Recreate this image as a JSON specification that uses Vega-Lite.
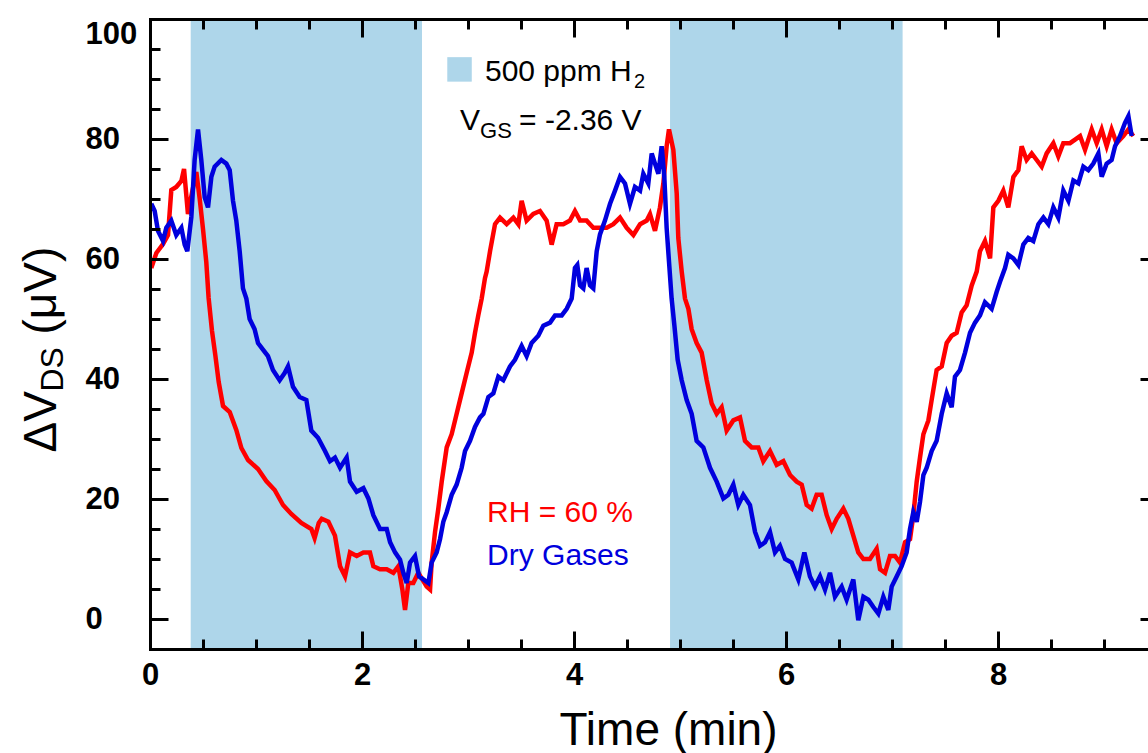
{
  "$schema": "https://vega.github.io/schema/vega-lite/v6.json",
  "width": 998,
  "height": 630,
  "autosize": {"type": "none"},
  "padding": {"left": 150, "top": 19, "right": 0, "bottom": 104},
  "background": "white",
  "config": {"view": {"stroke": null}, "axis": {"grid": false}},
  "datasets": {
    "shade": [{"start": 0.384, "end": 2.566}, {"start": 4.906, "end": 7.1}],
    "traces": [
      {"s":"RH","t":0.012,"v":58.5},{"s":"RH","t":0.06,"v":61},{"s":"RH","t":0.123,"v":62.5},{"s":"RH","t":0.17,"v":64},{"s":"RH","t":0.201,"v":71.5},{"s":"RH","t":0.248,"v":72},{"s":"RH","t":0.296,"v":73},{"s":"RH","t":0.321,"v":75},{"s":"RH","t":0.358,"v":67.5},{"s":"RH","t":0.396,"v":71},{"s":"RH","t":0.437,"v":74.5},{"s":"RH","t":0.469,"v":70},{"s":"RH","t":0.5,"v":65},{"s":"RH","t":0.531,"v":59.5},{"s":"RH","t":0.553,"v":53.5},{"s":"RH","t":0.585,"v":48},{"s":"RH","t":0.616,"v":44},{"s":"RH","t":0.648,"v":39.5},{"s":"RH","t":0.689,"v":35.5},{"s":"RH","t":0.752,"v":34.5},{"s":"RH","t":0.814,"v":31.5},{"s":"RH","t":0.862,"v":28.5},{"s":"RH","t":0.925,"v":26.5},{"s":"RH","t":1.019,"v":25},{"s":"RH","t":1.097,"v":23},{"s":"RH","t":1.176,"v":21.5},{"s":"RH","t":1.255,"v":19},{"s":"RH","t":1.333,"v":17.5},{"s":"RH","t":1.428,"v":16},{"s":"RH","t":1.522,"v":15},{"s":"RH","t":1.553,"v":13.5},{"s":"RH","t":1.592,"v":16},
      {"s":"RH","t":1.62,"v":16.7},{"s":"RH","t":1.683,"v":16.2},{"s":"RH","t":1.745,"v":13.9},{"s":"RH","t":1.793,"v":8.8},{"s":"RH","t":1.84,"v":7.1},{"s":"RH","t":1.887,"v":11.1},{"s":"RH","t":1.95,"v":10.5},{"s":"RH","t":2.013,"v":11.1},{"s":"RH","t":2.075,"v":11.1},{"s":"RH","t":2.107,"v":8.8},{"s":"RH","t":2.17,"v":8.3},{"s":"RH","t":2.233,"v":8.3},{"s":"RH","t":2.296,"v":7.7},{"s":"RH","t":2.343,"v":8.8},{"s":"RH","t":2.381,"v":4.9},{"s":"RH","t":2.406,"v":1.5},{"s":"RH","t":2.437,"v":6},{"s":"RH","t":2.484,"v":6},{"s":"RH","t":2.531,"v":7.7},{"s":"RH","t":2.569,"v":6.6},{"s":"RH","t":2.61,"v":5.4},{"s":"RH","t":2.642,"v":4.9},{"s":"RH","t":2.657,"v":9.4},{"s":"RH","t":2.689,"v":14.5},{"s":"RH","t":2.72,"v":18.4},{"s":"RH","t":2.752,"v":22.9},{"s":"RH","t":2.799,"v":28.6},{"s":"RH","t":2.846,"v":30.8},{"s":"RH","t":2.893,"v":34.2},{"s":"RH","t":2.94,"v":37.6},{"s":"RH","t":2.987,"v":41},{"s":"RH","t":3.035,"v":44.4},{"s":"RH","t":3.066,"v":47.7},{"s":"RH","t":3.097,"v":50.6},{"s":"RH","t":3.129,"v":53.4},{"s":"RH","t":3.16,"v":56.8},
      {"s":"RH","t":3.176,"v":57.9},{"s":"RH","t":3.208,"v":61.3},{"s":"RH","t":3.255,"v":65.8},{"s":"RH","t":3.302,"v":66.9},{"s":"RH","t":3.365,"v":65.8},{"s":"RH","t":3.428,"v":66.9},{"s":"RH","t":3.475,"v":65.8},{"s":"RH","t":3.506,"v":69.7},{"s":"RH","t":3.553,"v":66.4},{"s":"RH","t":3.616,"v":67.5},{"s":"RH","t":3.679,"v":68},{"s":"RH","t":3.742,"v":66.4},{"s":"RH","t":3.789,"v":62.4},{"s":"RH","t":3.836,"v":65.8},{"s":"RH","t":3.899,"v":65.8},{"s":"RH","t":3.962,"v":66.4},{"s":"RH","t":4.009,"v":68},{"s":"RH","t":4.057,"v":66.4},{"s":"RH","t":4.119,"v":66.4},{"s":"RH","t":4.182,"v":65.2},{"s":"RH","t":4.245,"v":65.2},{"s":"RH","t":4.308,"v":65.2},{"s":"RH","t":4.371,"v":65.8},{"s":"RH","t":4.434,"v":66.9},{"s":"RH","t":4.497,"v":65.2},{"s":"RH","t":4.56,"v":64},{"s":"RH","t":4.623,"v":65.8},{"s":"RH","t":4.686,"v":66.4},{"s":"RH","t":4.717,"v":67.5},{"s":"RH","t":4.764,"v":64.7},{"s":"RH","t":4.811,"v":68.6},{"s":"RH","t":4.843,"v":72.6},{"s":"RH","t":4.874,"v":78.8},{"s":"RH","t":4.896,"v":81.6},{"s":"RH","t":4.937,"v":78.2},{"s":"RH","t":4.969,"v":70.9},{"s":"RH","t":4.984,"v":63.5},{"s":"RH","t":5.016,"v":57.9},{"s":"RH","t":5.047,"v":53.4},{"s":"RH","t":5.079,"v":51.7},{"s":"RH","t":5.11,"v":48.3},{"s":"RH","t":5.157,"v":46},{"s":"RH","t":5.204,"v":44.4},{"s":"RH","t":5.252,"v":39.8},{"s":"RH","t":5.299,"v":35.9},{"s":"RH","t":5.346,"v":34.2},{"s":"RH","t":5.393,"v":35.3},{"s":"RH","t":5.44,"v":31.4},{"s":"RH","t":5.503,"v":33.1},{"s":"RH","t":5.566,"v":33.6},{"s":"RH","t":5.613,"v":29.7},{"s":"RH","t":5.676,"v":28.6},{"s":"RH","t":5.739,"v":28.6},{"s":"RH","t":5.786,"v":26.3},{"s":"RH","t":5.849,"v":28},{"s":"RH","t":5.912,"v":25.7},{"s":"RH","t":5.975,"v":26.3},{"s":"RH","t":6.038,"v":24},{"s":"RH","t":6.101,"v":22.9},{"s":"RH","t":6.148,"v":22.4},{"s":"RH","t":6.195,"v":19},{"s":"RH","t":6.242,"v":18.4},{"s":"RH","t":6.289,"v":20.7},{"s":"RH","t":6.336,"v":20.7},{"s":"RH","t":6.384,"v":17.3},{"s":"RH","t":6.431,"v":15},{"s":"RH","t":6.478,"v":16.7},{"s":"RH","t":6.541,"v":18.4},{"s":"RH","t":6.588,"v":16.7},{"s":"RH","t":6.635,"v":13.9},{"s":"RH","t":6.682,"v":11.1},{"s":"RH","t":6.73,"v":10},{"s":"RH","t":6.792,"v":10},{"s":"RH","t":6.855,"v":11.7},{"s":"RH","t":6.887,"v":8.3},{"s":"RH","t":6.934,"v":7.7},{"s":"RH","t":6.981,"v":10.5},{"s":"RH","t":7.028,"v":10.5},{"s":"RH","t":7.075,"v":9.4},{"s":"RH","t":7.123,"v":12.8},{"s":"RH","t":7.17,"v":13.3},{"s":"RH","t":7.201,"v":17.3},{"s":"RH","t":7.233,"v":22.9},{"s":"RH","t":7.264,"v":26.9},{"s":"RH","t":7.296,"v":30.8},{"s":"RH","t":7.343,"v":33.1},{"s":"RH","t":7.374,"v":36.5},{"s":"RH","t":7.421,"v":41.5},{"s":"RH","t":7.469,"v":42.1},{"s":"RH","t":7.516,"v":46},{"s":"RH","t":7.563,"v":47.2},{"s":"RH","t":7.61,"v":47.7},{"s":"RH","t":7.657,"v":51.1},{"s":"RH","t":7.704,"v":52.3},{"s":"RH","t":7.752,"v":55.6},{"s":"RH","t":7.799,"v":57.9},{"s":"RH","t":7.83,"v":61.3},{"s":"RH","t":7.877,"v":63},{"s":"RH","t":7.925,"v":60.1},{"s":"RH","t":7.956,"v":68.6},{"s":"RH","t":8.003,"v":69.7},{"s":"RH","t":8.05,"v":71.4},{"s":"RH","t":8.097,"v":68.6},{"s":"RH","t":8.145,"v":73.7},{"s":"RH","t":8.192,"v":74.8},{"s":"RH","t":8.223,"v":78.8},{"s":"RH","t":8.27,"v":76.5},{"s":"RH","t":8.318,"v":77.6},{"s":"RH","t":8.365,"v":76.5},{"s":"RH","t":8.412,"v":75.4},{"s":"RH","t":8.459,"v":77.6},{"s":"RH","t":8.522,"v":79.3},{"s":"RH","t":8.569,"v":77.1},{"s":"RH","t":8.616,"v":79.3},{"s":"RH","t":8.679,"v":79.3},{"s":"RH","t":8.727,"v":79.9},{"s":"RH","t":8.774,"v":80.5},{"s":"RH","t":8.821,"v":78.2},{"s":"RH","t":8.884,"v":81.6},{"s":"RH","t":8.931,"v":79.3},{"s":"RH","t":8.978,"v":81.6},{"s":"RH","t":9.025,"v":78.8},{"s":"RH","t":9.072,"v":81.6},{"s":"RH","t":9.119,"v":79.3},{"s":"RH","t":9.182,"v":80.5},{"s":"RH","t":9.23,"v":81.6},{"s":"RH","t":9.277,"v":80.5},
      {"s":"Dry","t":0.012,"v":69.2},{"s":"Dry","t":0.044,"v":68},{"s":"Dry","t":0.075,"v":64.7},{"s":"Dry","t":0.123,"v":63},{"s":"Dry","t":0.154,"v":65.2},{"s":"Dry","t":0.201,"v":66.4},{"s":"Dry","t":0.248,"v":64},{"s":"Dry","t":0.296,"v":65.2},{"s":"Dry","t":0.327,"v":62.4},{"s":"Dry","t":0.352,"v":61.3},{"s":"Dry","t":0.39,"v":67},{"s":"Dry","t":0.421,"v":76.5},{"s":"Dry","t":0.453,"v":81.6},{"s":"Dry","t":0.484,"v":76.5},{"s":"Dry","t":0.516,"v":70.3},{"s":"Dry","t":0.547,"v":68.6},{"s":"Dry","t":0.579,"v":73.7},{"s":"Dry","t":0.61,"v":75.4},{"s":"Dry","t":0.673,"v":76.5},{"s":"Dry","t":0.72,"v":75.9},{"s":"Dry","t":0.752,"v":74.8},{"s":"Dry","t":0.783,"v":69.7},{"s":"Dry","t":0.814,"v":66.4},{"s":"Dry","t":0.846,"v":61.3},{"s":"Dry","t":0.877,"v":55.1},{"s":"Dry","t":0.909,"v":53.4},{"s":"Dry","t":0.94,"v":50},{"s":"Dry","t":0.987,"v":48.3},{"s":"Dry","t":1.019,"v":46},{"s":"Dry","t":1.066,"v":44.9},{"s":"Dry","t":1.113,"v":43.8},{"s":"Dry","t":1.16,"v":41.5},{"s":"Dry","t":1.223,"v":39.8},{"s":"Dry","t":1.27,"v":41},{"s":"Dry","t":1.302,"v":42.1},{"s":"Dry","t":1.349,"v":38.7},{"s":"Dry","t":1.412,"v":37},{"s":"Dry","t":1.475,"v":36.5},{"s":"Dry","t":1.522,"v":31.4},{"s":"Dry","t":1.585,"v":30.2},{"s":"Dry","t":1.651,"v":28},{"s":"Dry","t":1.698,"v":26.3},{"s":"Dry","t":1.745,"v":26.9},{"s":"Dry","t":1.793,"v":25.2},{"s":"Dry","t":1.855,"v":26.9},{"s":"Dry","t":1.887,"v":22.9},{"s":"Dry","t":1.95,"v":21.2},{"s":"Dry","t":2.013,"v":21.8},{"s":"Dry","t":2.06,"v":20.1},{"s":"Dry","t":2.107,"v":17.3},{"s":"Dry","t":2.17,"v":15},{"s":"Dry","t":2.233,"v":15},{"s":"Dry","t":2.265,"v":12.8},{"s":"Dry","t":2.312,"v":11.1},{"s":"Dry","t":2.359,"v":9.9},{"s":"Dry","t":2.39,"v":7.7},{"s":"Dry","t":2.422,"v":6},{"s":"Dry","t":2.453,"v":9.4},{"s":"Dry","t":2.5,"v":10.5},{"s":"Dry","t":2.538,"v":7.1},{"s":"Dry","t":2.579,"v":6.6},{"s":"Dry","t":2.626,"v":6},{"s":"Dry","t":2.657,"v":9.4},{"s":"Dry","t":2.704,"v":11.1},{"s":"Dry","t":2.736,"v":13.3},{"s":"Dry","t":2.767,"v":16.2},{"s":"Dry","t":2.799,"v":17.8},{"s":"Dry","t":2.846,"v":20.7},{"s":"Dry","t":2.893,"v":22.4},{"s":"Dry","t":2.94,"v":25.2},{"s":"Dry","t":2.972,"v":28},{"s":"Dry","t":3.019,"v":29.7},{"s":"Dry","t":3.066,"v":32},{"s":"Dry","t":3.113,"v":33.6},{"s":"Dry","t":3.145,"v":34.2},{"s":"Dry","t":3.192,"v":37},{"s":"Dry","t":3.239,"v":37.6},{"s":"Dry","t":3.286,"v":40.4},{"s":"Dry","t":3.333,"v":39.8},{"s":"Dry","t":3.396,"v":42.1},{"s":"Dry","t":3.443,"v":43.2},{"s":"Dry","t":3.506,"v":45.5},{"s":"Dry","t":3.553,"v":43.8},{"s":"Dry","t":3.6,"v":46},{"s":"Dry","t":3.663,"v":47.2},{"s":"Dry","t":3.711,"v":48.9},{"s":"Dry","t":3.774,"v":49.4},{"s":"Dry","t":3.821,"v":50.6},{"s":"Dry","t":3.884,"v":50.6},{"s":"Dry","t":3.931,"v":51.7},{"s":"Dry","t":3.978,"v":53.4},{"s":"Dry","t":4.009,"v":58.5},{"s":"Dry","t":4.031,"v":59},{"s":"Dry","t":4.057,"v":55.6},{"s":"Dry","t":4.088,"v":55.1},{"s":"Dry","t":4.119,"v":58.5},{"s":"Dry","t":4.151,"v":55.6},{"s":"Dry","t":4.182,"v":55.1},{"s":"Dry","t":4.214,"v":61.3},{"s":"Dry","t":4.245,"v":64.1},{"s":"Dry","t":4.292,"v":66.4},{"s":"Dry","t":4.34,"v":69.2},{"s":"Dry","t":4.387,"v":71.4},{"s":"Dry","t":4.434,"v":73.7},{"s":"Dry","t":4.481,"v":72.6},{"s":"Dry","t":4.528,"v":69.2},{"s":"Dry","t":4.575,"v":72},{"s":"Dry","t":4.623,"v":71.4},{"s":"Dry","t":4.654,"v":74.2},{"s":"Dry","t":4.701,"v":72.6},{"s":"Dry","t":4.733,"v":77.6},{"s":"Dry","t":4.764,"v":75.9},{"s":"Dry","t":4.796,"v":74.2},{"s":"Dry","t":4.827,"v":78.8},{"s":"Dry","t":4.852,"v":73.7},{"s":"Dry","t":4.874,"v":65.2},{"s":"Dry","t":4.896,"v":59.6},{"s":"Dry","t":4.921,"v":53.4},{"s":"Dry","t":4.947,"v":48.9},{"s":"Dry","t":4.978,"v":43.2},{"s":"Dry","t":5.016,"v":39.8},{"s":"Dry","t":5.063,"v":36.5},{"s":"Dry","t":5.11,"v":34.2},{"s":"Dry","t":5.157,"v":29.7},{"s":"Dry","t":5.22,"v":28.6},{"s":"Dry","t":5.283,"v":25.2},{"s":"Dry","t":5.346,"v":22.9},{"s":"Dry","t":5.409,"v":20.1},{"s":"Dry","t":5.456,"v":20.7},{"s":"Dry","t":5.503,"v":22.4},{"s":"Dry","t":5.55,"v":19},{"s":"Dry","t":5.597,"v":20.7},{"s":"Dry","t":5.66,"v":19},{"s":"Dry","t":5.708,"v":14.5},{"s":"Dry","t":5.755,"v":12.2},{"s":"Dry","t":5.802,"v":12.8},{"s":"Dry","t":5.849,"v":14.5},{"s":"Dry","t":5.896,"v":11.1},{"s":"Dry","t":5.943,"v":12.2},{"s":"Dry","t":5.991,"v":10},{"s":"Dry","t":6.053,"v":9.4},{"s":"Dry","t":6.116,"v":6.6},{"s":"Dry","t":6.173,"v":11.1},{"s":"Dry","t":6.226,"v":7.1},{"s":"Dry","t":6.273,"v":5.4},{"s":"Dry","t":6.321,"v":7.1},{"s":"Dry","t":6.368,"v":4.9},{"s":"Dry","t":6.415,"v":7.7},{"s":"Dry","t":6.462,"v":3.7},{"s":"Dry","t":6.525,"v":5.4},{"s":"Dry","t":6.572,"v":3.2},{"s":"Dry","t":6.635,"v":6.6},{"s":"Dry","t":6.682,"v":-0.2},{"s":"Dry","t":6.73,"v":3.7},{"s":"Dry","t":6.777,"v":3.2},{"s":"Dry","t":6.824,"v":2},{"s":"Dry","t":6.871,"v":0.9},{"s":"Dry","t":6.918,"v":3.7},{"s":"Dry","t":6.965,"v":1.5},{"s":"Dry","t":6.997,"v":5.4},{"s":"Dry","t":7.044,"v":7.1},{"s":"Dry","t":7.091,"v":8.8},{"s":"Dry","t":7.138,"v":11.1},{"s":"Dry","t":7.17,"v":15},{"s":"Dry","t":7.201,"v":17.8},{"s":"Dry","t":7.233,"v":16.2},{"s":"Dry","t":7.264,"v":19.5},{"s":"Dry","t":7.296,"v":24},{"s":"Dry","t":7.327,"v":25.2},{"s":"Dry","t":7.374,"v":28},{"s":"Dry","t":7.421,"v":29.7},{"s":"Dry","t":7.469,"v":34.2},{"s":"Dry","t":7.516,"v":37.6},{"s":"Dry","t":7.563,"v":35.3},{"s":"Dry","t":7.594,"v":40.4},{"s":"Dry","t":7.641,"v":41.5},{"s":"Dry","t":7.689,"v":44.4},{"s":"Dry","t":7.736,"v":47.7},{"s":"Dry","t":7.783,"v":49.4},{"s":"Dry","t":7.83,"v":50.6},{"s":"Dry","t":7.877,"v":52.8},{"s":"Dry","t":7.94,"v":51.7},{"s":"Dry","t":7.987,"v":54.5},{"s":"Dry","t":8.019,"v":56.2},{"s":"Dry","t":8.066,"v":58.5},{"s":"Dry","t":8.097,"v":60.7},{"s":"Dry","t":8.145,"v":60.1},{"s":"Dry","t":8.192,"v":59},{"s":"Dry","t":8.239,"v":62.4},{"s":"Dry","t":8.286,"v":63.5},{"s":"Dry","t":8.333,"v":63},{"s":"Dry","t":8.381,"v":65.8},{"s":"Dry","t":8.428,"v":66.9},{"s":"Dry","t":8.475,"v":65.8},{"s":"Dry","t":8.522,"v":68.6},{"s":"Dry","t":8.569,"v":66.9},{"s":"Dry","t":8.616,"v":71.4},{"s":"Dry","t":8.664,"v":69.7},{"s":"Dry","t":8.711,"v":73.1},{"s":"Dry","t":8.758,"v":72.6},{"s":"Dry","t":8.805,"v":75.4},{"s":"Dry","t":8.852,"v":74.8},{"s":"Dry","t":8.899,"v":75.9},{"s":"Dry","t":8.947,"v":77.6},{"s":"Dry","t":8.978,"v":73.7},{"s":"Dry","t":9.025,"v":75.9},{"s":"Dry","t":9.072,"v":76.5},{"s":"Dry","t":9.104,"v":78.8},{"s":"Dry","t":9.151,"v":80.5},{"s":"Dry","t":9.198,"v":82.7},{"s":"Dry","t":9.23,"v":83.8},{"s":"Dry","t":9.261,"v":80.5}
    ]
  },
  "layer": [
    {
      "data": {"name": "shade"},
      "mark": {"type": "rect", "color": "#aed6ea"},
      "encoding": {
        "x": {"field": "start", "type": "quantitative", "scale": {"domain": [0, 9.415], "nice": false, "zero": false}, "axis": null},
        "x2": {"field": "end"}
      }
    },
    {
      "data": {"name": "traces"},
      "transform": [{"filter": "datum.s === 'RH'"}],
      "mark": {"type": "line", "color": "#ff0000", "strokeWidth": 4.5, "strokeJoin": "miter"},
      "encoding": {
        "x": {"field": "t", "type": "quantitative", "scale": {"domain": [0, 9.415], "nice": false, "zero": false},
          "axis": {"orient": "bottom", "values": [0, 2, 4, 6, 8], "ticks": false, "tickSize": 0, "labelFont": "Liberation Sans", "labelFontSize": 31, "labelFontWeight": "bold", "labelColor": "#000", "labelPadding": 11, "labelFlush": false, "labelOverlap": false, "labelBound": false, "domain": true, "domainColor": "#000", "domainWidth": 3, "domainCap": "square", "zindex": 1, "title": "Time (min)", "titleFont": "Liberation Sans", "titleFontSize": 46, "titleFontWeight": "normal", "titleColor": "#000", "titleX": 518, "titleY": 95, "titleAlign": "center", "titleBaseline": "alphabetic", "titleAngle": 0}},
        "y": {"field": "v", "type": "quantitative", "scale": {"domain": [-5, 100], "nice": false, "zero": false},
          "axis": {"orient": "left", "values": [0, 20, 40, 60, 80, 100], "ticks": false, "tickSize": 0, "labelFont": "Liberation Sans", "labelFontSize": 31, "labelFontWeight": "bold", "labelColor": "#000", "labelAlign": "left", "labelPadding": 65, "labelFlush": true, "labelOverlap": false, "labelBound": false, "domain": true, "domainColor": "#000", "domainWidth": 3, "domainCap": "square", "zindex": 1, "title": "ΔV", "titleFont": "Liberation Sans", "titleFontSize": 46, "titleFontWeight": "normal", "titleColor": "#000", "titleX": -95, "titleY": 433, "titleAlign": "left", "titleBaseline": "alphabetic", "titleAngle": 270}}
      }
    },
    {
      "data": {"name": "traces"},
      "transform": [{"filter": "datum.s === 'Dry'"}],
      "mark": {"type": "line", "color": "#0000dd", "strokeWidth": 4.5, "strokeJoin": "miter"},
      "encoding": {
        "x": {"field": "t", "type": "quantitative", "scale": {"domain": [0, 9.415], "nice": false, "zero": false}, "axis": null},
        "y": {"field": "v", "type": "quantitative", "scale": {"domain": [-5, 100], "nice": false, "zero": false}, "axis": null}
      }
    },
    {
      "data": {"values": [{}]},
      "mark": {"type": "point", "shape": "square", "filled": true, "color": "#aed6ea", "size": 600, "opacity": 1},
      "encoding": {
        "x": {"datum": 2.92, "type": "quantitative", "scale": {"domain": [0, 9.415], "nice": false, "zero": false},
          "axis": {"orient": "bottom", "values": [0, 2, 4, 6, 8], "tickSize": -18, "tickWidth": 3, "tickColor": "#000", "labels": false, "domain": false, "zindex": 1, "title": null}},
        "y": {"datum": 91.6, "type": "quantitative", "scale": {"domain": [-5, 100], "nice": false, "zero": false},
          "axis": {"orient": "left", "values": [0, 20, 40, 60, 80, 100], "tickSize": -18, "tickWidth": 3, "tickColor": "#000", "labels": false, "domain": false, "zindex": 1, "title": null}}
      }
    },
    {
      "data": {"values": [{}]},
      "mark": {"type": "text", "text": "500 ppm H", "font": "Liberation Sans", "fontSize": 30, "color": "#000", "align": "left", "baseline": "alphabetic"},
      "encoding": {
        "x": {"datum": 3.16, "type": "quantitative", "scale": {"domain": [0, 9.415], "nice": false, "zero": false},
          "axis": {"orient": "bottom", "values": [0.5, 1, 1.5, 2.5, 3, 3.5, 4.5, 5, 5.5, 6.5, 7, 7.5, 8.5, 9], "tickSize": -10, "tickWidth": 3, "tickColor": "#000", "labels": false, "domain": false, "zindex": 1, "title": null}},
        "y": {"datum": 89.7, "type": "quantitative", "scale": {"domain": [-5, 100], "nice": false, "zero": false},
          "axis": {"orient": "left", "values": [5, 10, 15, 25, 30, 35, 45, 50, 55, 65, 70, 75, 85, 90, 95], "tickSize": -10, "tickWidth": 3, "tickColor": "#000", "labels": false, "domain": false, "zindex": 1, "title": "DS", "titleFont": "Liberation Sans", "titleFontSize": 32, "titleFontWeight": "normal", "titleColor": "#000", "titleX": -88, "titleY": 372, "titleAlign": "left", "titleBaseline": "alphabetic", "titleAngle": 270}}
      }
    },
    {
      "data": {"values": [{}]},
      "mark": {"type": "text", "text": "2", "font": "Liberation Sans", "fontSize": 20, "color": "#000", "align": "left", "baseline": "alphabetic", "dx": 149, "dy": 7},
      "encoding": {
        "x": {"datum": 3.16, "type": "quantitative", "scale": {"domain": [0, 9.415], "nice": false, "zero": false},
          "axis": {"orient": "top", "values": [0, 2, 4, 6, 8], "tickSize": -18, "tickWidth": 3, "tickColor": "#000", "labels": false, "domain": true, "domainColor": "#000", "domainWidth": 3, "domainCap": "square", "zindex": 1, "title": null}},
        "y": {"datum": 89.7, "type": "quantitative", "scale": {"domain": [-5, 100], "nice": false, "zero": false},
          "axis": {"orient": "left", "ticks": false, "labels": false, "domain": false, "zindex": 1, "title": "(μV)", "titleFont": "Liberation Sans", "titleFontSize": 46, "titleFontWeight": "normal", "titleColor": "#000", "titleX": -95, "titleY": 315, "titleAlign": "left", "titleBaseline": "alphabetic", "titleAngle": 270}}
      }
    },
    {
      "data": {"values": [{}]},
      "mark": {"type": "text", "text": "V", "font": "Liberation Sans", "fontSize": 30, "color": "#000", "align": "left", "baseline": "alphabetic"},
      "encoding": {
        "x": {"datum": 2.925, "type": "quantitative", "scale": {"domain": [0, 9.415], "nice": false, "zero": false},
          "axis": {"orient": "top", "values": [0.5, 1, 1.5, 2.5, 3, 3.5, 4.5, 5, 5.5, 6.5, 7, 7.5, 8.5, 9], "tickSize": -10, "tickWidth": 3, "tickColor": "#000", "labels": false, "domain": false, "zindex": 1, "title": null}},
        "y": {"datum": 81.5, "type": "quantitative", "scale": {"domain": [-5, 100], "nice": false, "zero": false},
          "axis": {"orient": "right", "values": [0, 20, 40, 60, 80], "tickSize": -8, "tickWidth": 3, "tickColor": "#000", "labels": false, "domain": false, "zindex": 1, "title": null}}
      }
    },
    {
      "data": {"values": [{}]},
      "mark": {"type": "text", "text": "GS", "font": "Liberation Sans", "fontSize": 22, "color": "#000", "align": "left", "baseline": "alphabetic", "dx": 20, "dy": 8},
      "encoding": {
        "x": {"datum": 2.925, "type": "quantitative", "scale": {"domain": [0, 9.415], "nice": false, "zero": false}, "axis": null},
        "y": {"datum": 81.5, "type": "quantitative", "scale": {"domain": [-5, 100], "nice": false, "zero": false}, "axis": null}
      }
    },
    {
      "data": {"values": [{}]},
      "mark": {"type": "text", "text": "= -2.36 V", "font": "Liberation Sans", "fontSize": 30, "color": "#000", "align": "left", "baseline": "alphabetic", "dx": 59},
      "encoding": {
        "x": {"datum": 2.925, "type": "quantitative", "scale": {"domain": [0, 9.415], "nice": false, "zero": false}, "axis": null},
        "y": {"datum": 81.5, "type": "quantitative", "scale": {"domain": [-5, 100], "nice": false, "zero": false}, "axis": null}
      }
    },
    {
      "data": {"values": [{}]},
      "mark": {"type": "text", "text": "RH = 60 %", "font": "Liberation Sans", "fontSize": 30, "color": "#ff0000", "align": "left", "baseline": "alphabetic"},
      "encoding": {
        "x": {"datum": 3.18, "type": "quantitative", "scale": {"domain": [0, 9.415], "nice": false, "zero": false}, "axis": null},
        "y": {"datum": 16.2, "type": "quantitative", "scale": {"domain": [-5, 100], "nice": false, "zero": false}, "axis": null}
      }
    },
    {
      "data": {"values": [{}]},
      "mark": {"type": "text", "text": "Dry Gases", "font": "Liberation Sans", "fontSize": 30, "color": "#0000dd", "align": "left", "baseline": "alphabetic"},
      "encoding": {
        "x": {"datum": 3.18, "type": "quantitative", "scale": {"domain": [0, 9.415], "nice": false, "zero": false}, "axis": null},
        "y": {"datum": 9.0, "type": "quantitative", "scale": {"domain": [-5, 100], "nice": false, "zero": false}, "axis": null}
      }
    }
  ],
  "resolve": {"axis": {"x": "independent", "y": "independent"}}
}
